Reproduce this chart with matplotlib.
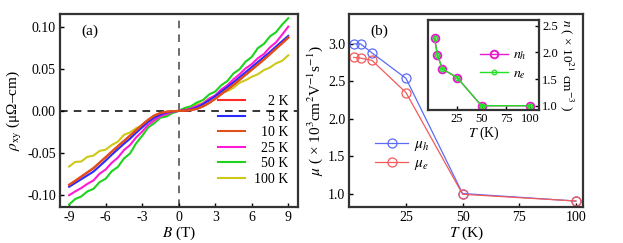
import numpy as np
import matplotlib
matplotlib.use("Agg")
import matplotlib.pyplot as plt

plt.rcParams['font.family'] = ['Liberation Serif', 'DejaVu Serif']
plt.rcParams['mathtext.fontset'] = 'stix'
plt.rcParams['axes.unicode_minus'] = False

# ---------------- Panel (a) data ----------------
B = [-9, -8.5, -8, -7.5, -7, -6.5, -6, -5.5, -5, -4.5, -4, -3.5, -3, -2.5, -2, -1.5, -1, -0.5,
     0, 0.5, 1, 1.5, 2, 2.5, 3, 3.5, 4, 4.5, 5, 5.5, 6, 6.5, 7, 7.5, 8, 8.5, 9]

rho_2K = [-0.088, -0.083, -0.078, -0.073, -0.068, -0.0615, -0.055, -0.0485, -0.042, -0.0358, -0.0295,
          -0.023, -0.0165, -0.0105, -0.0055, -0.0025, -0.001, -0.0003,
          0.0, 0.0003, 0.001, 0.0025, 0.0055, 0.0095, 0.0145, 0.020, 0.0255, 0.031, 0.037, 0.043,
          0.049, 0.055, 0.061, 0.0675, 0.074, 0.0805, 0.087]
rho_5K = [-0.090, -0.0855, -0.081, -0.0765, -0.072, -0.0655, -0.059, -0.052, -0.0455, -0.039, -0.033,
          -0.026, -0.0195, -0.013, -0.008, -0.0043, -0.0018, -0.0005,
          0.0, 0.0005, 0.0018, 0.0043, 0.008, 0.0125, 0.0175, 0.023, 0.0285, 0.034, 0.040, 0.046,
          0.052, 0.058, 0.064, 0.070, 0.0765, 0.0828, 0.089]
rho_10K = [-0.0875, -0.0828, -0.0778, -0.0728, -0.0678, -0.0612, -0.0548, -0.0482, -0.0418, -0.0355, -0.0292,
           -0.0228, -0.0163, -0.0103, -0.0053, -0.0024, -0.0009, -0.0003,
           0.0, 0.0003, 0.0009, 0.0024, 0.0053, 0.0093, 0.0143, 0.0198, 0.0253, 0.0308, 0.0368, 0.0428,
           0.0488, 0.0548, 0.0608, 0.0672, 0.0738, 0.0802, 0.0868]
rho_25K = [-0.100, -0.0955, -0.0915, -0.0865, -0.0825, -0.0745, -0.0695, -0.0615, -0.0555, -0.0465, -0.0405,
           -0.0315, -0.0245, -0.0165, -0.0112, -0.0062, -0.0037, -0.0010,
           0.0, 0.0012, 0.0028, 0.0058, 0.0088, 0.0145, 0.0185, 0.0255, 0.0305, 0.0375, 0.0435, 0.0505,
           0.0555, 0.0625, 0.0675, 0.0755, 0.0815, 0.0905, 0.100]
rho_50K = [-0.111, -0.1045, -0.1015, -0.0955, -0.0925, -0.0845, -0.0805, -0.0715, -0.0665, -0.0565, -0.0505,
           -0.0385, -0.0295, -0.0195, -0.0145, -0.0080, -0.0065, -0.0025,
           0.0, 0.0035, 0.0055, 0.0100, 0.0130, 0.0195, 0.0230, 0.0305, 0.0355, 0.0445, 0.0495, 0.0585,
           0.0640, 0.0745, 0.0795, 0.0885, 0.0935, 0.1025, 0.110]
rho_100K = [-0.066, -0.0605, -0.0600, -0.0545, -0.0530, -0.0475, -0.0460, -0.0405, -0.0365, -0.0285, -0.0255,
            -0.0205, -0.0175, -0.0125, -0.0105, -0.0065, -0.0045, -0.0015,
            0.0, 0.0025, 0.0038, 0.0075, 0.0095, 0.0145, 0.0175, 0.0215, 0.0235, 0.0275, 0.0335, 0.0365,
            0.0405, 0.0435, 0.0485, 0.0515, 0.0565, 0.0595, 0.066]

a_series = [("2 K", rho_2K, "#ff2a2a"),
            ("5 K", rho_5K, "#2a2aff"),
            ("10 K", rho_10K, "#e0501a"),
            ("25 K", rho_25K, "#ff1ad5"),
            ("50 K", rho_50K, "#1ed21e"),
            ("100 K", rho_100K, "#cdc81a")]
a_labels = ["    2 K", "    5 K", "  10 K", "  25 K", "  50 K", "100 K"]

# ---------------- Panel (b) data ----------------
T = [2, 5, 10, 25, 50, 100]
mu_h = [3.00, 3.00, 2.88, 2.54, 1.00, 0.90]
mu_e = [2.82, 2.81, 2.78, 2.35, 0.99, 0.90]
n_h = [2.27, 1.95, 1.69, 1.53, 1.00, 1.00]
n_e = [2.27, 1.95, 1.69, 1.53, 1.00, 1.00]

fig = plt.figure(figsize=(6.23, 2.43), dpi=100)

spine_lw = 1.6
spine_col = "#333333"

def style(ax):
    for s in ax.spines.values():
        s.set_linewidth(spine_lw)
        s.set_color(spine_col)
    ax.tick_params(direction='in', length=3, width=1, labelsize=10, colors='black', pad=3)
    ax.tick_params(which='minor', direction='in', length=2, width=0.8)

# ---- (a)
axa = fig.add_axes([60/623, 36/243, 238/623, 193/243])
style(axa)
axa.axhline(0, color='black', lw=1.1, ls=(0, (5, 4)), zorder=1)
axa.axvline(0, color='#444444', lw=1.1, ls=(0, (5, 4)), zorder=1)
order = [5, 4, 3, 1, 0, 2]
lines = {}
for i in order:
    lab, vals, col = a_series[i]
    ln, = axa.plot(B, vals, color=col, lw=1.5, zorder=2 + order.index(i))
    lines[i] = ln
axa.set_xlim(-9.75, 9.8)
axa.set_ylim(-0.114, 0.115)
axa.set_xticks([-9, -6, -3, 0, 3, 6, 9])
axa.set_xticklabels(['-9', '-6', '-3', '0', '3', '6', '9'])
axa.set_yticks([-0.10, -0.05, 0.0, 0.05, 0.10])
axa.set_yticklabels(['-0.10', '-0.05', '0.00', '0.05', '0.10'])
axa.set_xlabel(r'$B$ (T)', fontsize=11, labelpad=0)
axa.set_ylabel(r'$\rho_{\rm xy}$ (μΩ–cm)', fontsize=11, labelpad=2)
axa.text(0.09, 0.89, '(a)', transform=axa.transAxes, fontsize=11)
leg = axa.legend([lines[i] for i in range(6)], a_labels, loc='lower right',
                 bbox_to_anchor=(1.0, 0.06), frameon=False, fontsize=10,
                 handlelength=2.0, handletextpad=0.6, labelspacing=0.18, borderpad=0.2)

# ---- (b)
axb = fig.add_axes([349.3/623, 36/243, 233.4/623, 193/243])
style(axb)
axb.plot(T, mu_h, color='#5a6cf5', lw=0.9, marker='o', ms=6.5, mfc='none', mew=0.9, label=r'$\mu_h$')
axb.plot(T, mu_e, color='#f45a5a', lw=0.9, marker='o', ms=6.5, mfc='none', mew=0.9, label=r'$\mu_e$')
axb.set_xlim(0, 103)
axb.set_ylim(0.82, 3.40)
axb.set_xticks([25, 50, 75, 100])
axb.set_yticks([1.0, 1.5, 2.0, 2.5, 3.0])
axb.set_yticklabels(['1.0', '1.5', '2.0', '2.5', '3.0'])
axb.set_xlabel(r'$T$ (K)', fontsize=11, labelpad=0)
axb.set_ylabel(r'$\mu$ ( × 10$^{3}$cm$^{2}$V$^{-1}$s$^{-1}$)', fontsize=11, labelpad=2)
axb.text(0.09, 0.89, '(b)', transform=axb.transAxes, fontsize=11)
axb.legend(loc='center left', bbox_to_anchor=(0.05, 0.27), frameon=False, fontsize=11,
           handlelength=2.2, handletextpad=0.4, labelspacing=0.2)

# ---- inset
axi = fig.add_axes([427.7/623, 133/243, 111.6/623, 90/243])
style(axi)
axi.tick_params(labelsize=9, left=False, labelleft=False, right=True, labelright=True, pad=2)
axi.plot(T, n_h, color='#e81ad0', lw=1.0, marker='o', ms=5.5, mfc='none', mew=1.4, label=r'$n_h$')
axi.plot(T, n_e, color='#22e022', lw=1.0, marker='o', ms=3.2, mfc='none', mew=1.0, label=r'$n_e$')
axi.plot(T, n_e, color='#22e022', lw=0, marker='.', ms=1.5)
axi.set_xlim(-5, 109)
axi.set_ylim(0.92, 2.61)
axi.set_xticks([25, 50, 75, 100])
axi.set_yticks([1.0, 1.5, 2.0, 2.5])
axi.set_yticklabels(['1.0', '1.5', '2.0', '2.5'])
axi.set_xlabel(r'$T$ (K)', fontsize=10, labelpad=0)
axi.yaxis.set_label_position('right')
axi.set_ylabel(r'$n$ ( × 10$^{21}$ cm$^{-3}$ )', fontsize=9.5, rotation=270, labelpad=13)
h, l = axi.get_legend_handles_labels()
axi.legend(h[:2], l[:2], loc='upper right', bbox_to_anchor=(1.0, 0.82), frameon=False, fontsize=10,
           handlelength=2.0, handletextpad=0.4, labelspacing=0.3)

fig.savefig('out.png', dpi=100)
